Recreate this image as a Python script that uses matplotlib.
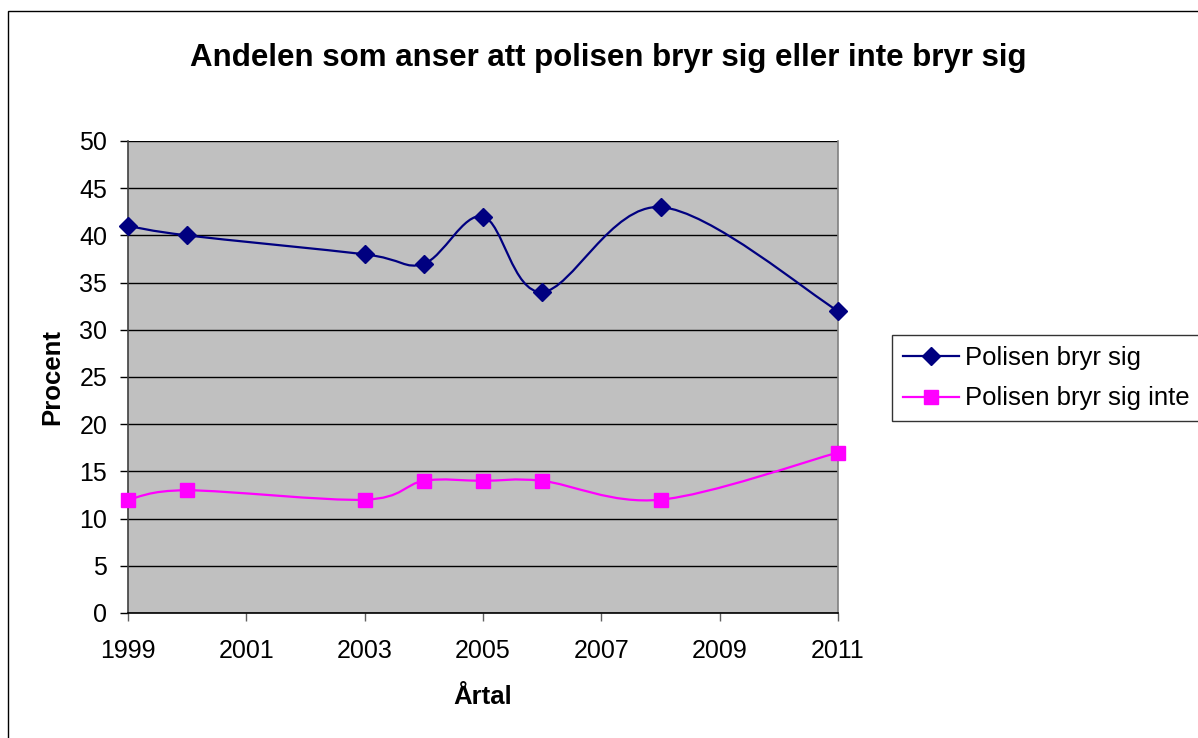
import matplotlib
matplotlib.use("Agg")
import matplotlib.pyplot as plt
from matplotlib.path import Path
from matplotlib.patches import PathPatch, Rectangle
from matplotlib.lines import Line2D

plt.rcParams['font.family'] = ['Liberation Sans', 'DejaVu Sans']

years = [1999, 2000, 2003, 2004, 2005, 2006, 2008, 2011]
bryr_sig = [41, 40, 38, 37, 42, 34, 43, 32]
bryr_sig_inte = [12, 13, 12, 14, 14, 14, 12, 17]
series_names = ["Polisen bryr sig", "Polisen bryr sig inte"]
title = "Andelen som anser att polisen bryr sig eller inte bryr sig"
xlabel = "Årtal"
ylabel = "Procent"
xticks = [1999, 2001, 2003, 2005, 2007, 2009, 2011]
yticks = list(range(0, 51, 5))

W, H = 1198, 738
fig = plt.figure(figsize=(W / 100, H / 100), dpi=100)
fig.patch.set_facecolor('white')

# outer chart border
fig.patches.append(Rectangle((8 / W, -0.05), 1.1, 1 - 11 / H + 0.05,
                             transform=fig.transFigure, fill=False,
                             edgecolor='black', linewidth=1.0))

ax = fig.add_axes([128 / W, 1 - 613 / H, 710 / W, 472 / H])
ax.set_facecolor('#C0C0C0')
ax.set_xlim(1999, 2011)
ax.set_ylim(0, 50)


def smooth_path(xs, ys):
    pts = list(zip(xs, ys))
    verts = [pts[0]]
    codes = [Path.MOVETO]
    n = len(pts)
    for i in range(n - 1):
        p0 = pts[i - 1] if i > 0 else pts[i]
        p1 = pts[i]
        p2 = pts[i + 1]
        p3 = pts[i + 2] if i + 2 < n else pts[i + 1]
        c1 = (p1[0] + (p2[0] - p0[0]) / 6, p1[1] + (p2[1] - p0[1]) / 6)
        c2 = (p2[0] - (p3[0] - p1[0]) / 6, p2[1] - (p3[1] - p1[1]) / 6)
        verts += [c1, c2, p2]
        codes += [Path.CURVE4] * 3
    return Path(verts, codes)


styles = [
    dict(color='#000080', marker='D', ms=9.5),
    dict(color='#FF00FF', marker='s', ms=10),
]
handles = []
for ys, name, st in zip([bryr_sig, bryr_sig_inte], series_names, styles):
    ax.add_patch(PathPatch(smooth_path(years, ys), fill=False,
                           edgecolor=st['color'], linewidth=1.6, zorder=3))
    ax.plot(years, ys, linestyle='none', marker=st['marker'],
            markersize=st['ms'], color=st['color'], zorder=4,
            clip_on=False)
    handles.append(Line2D([], [], color=st['color'], linewidth=1.6,
                          marker=st['marker'], markersize=st['ms']))

ax.set_xticks(xticks)
ax.set_yticks(yticks)
ax.grid(axis='y', color='black', linewidth=1.0)
ax.set_axisbelow(True)
ax.tick_params(axis='both', direction='out', length=6, width=1,
               labelsize=18, colors='black')
ax.tick_params(axis='x', pad=13, color='#606060')
ax.tick_params(axis='y', pad=9)
ax.spines['top'].set_visible(False)
ax.spines['right'].set_color('#808080')
ax.spines['left'].set_color('#404040')
ax.spines['bottom'].set_color('black')
for s in ax.spines.values():
    s.set_linewidth(1.2)

xl = ax.set_xlabel(xlabel, fontsize=18.5, fontweight='bold')
yl = ax.set_ylabel(ylabel, fontsize=18.5, fontweight='bold')
xl.set_va('center')
yl.set_va('center')
ax.xaxis.set_label_coords((483 - 128) / 710, (613 - 697) / 472)
ax.yaxis.set_label_coords((52 - 128) / 710, 0.5)

fig.text(608 / W, 1 - 66 / H, title, fontsize=22.5, fontweight='bold',
         ha='center', va='baseline')

leg = fig.legend(handles, series_names, loc='upper left',
                 bbox_to_anchor=(892 / W, 1 - 421 / H, 0.3, 86 / H),
                 mode='expand', fontsize=18.5,
                 frameon=True, fancybox=False, edgecolor='black',
                 borderaxespad=0, handlelength=2.2, handletextpad=0.23,
                 labelspacing=0.65, borderpad=0.42)
leg.get_frame().set_linewidth(1.0)

fig.savefig('out.png', dpi=100)
